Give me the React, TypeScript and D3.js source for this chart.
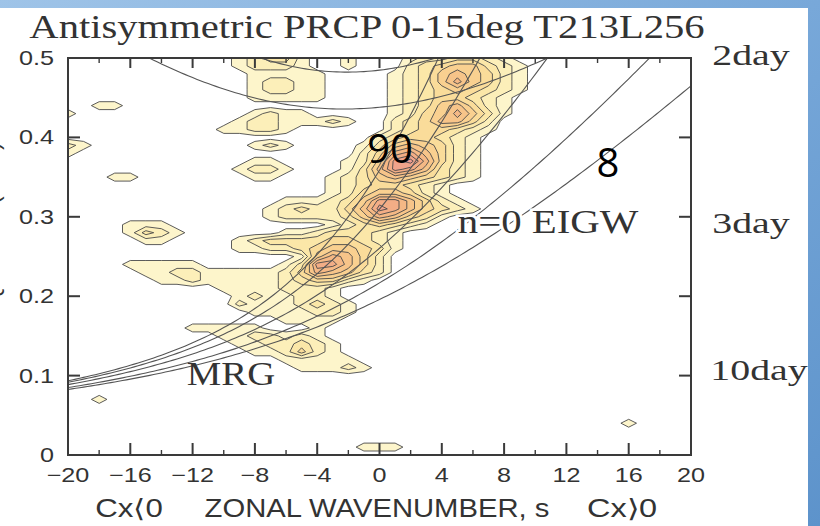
import React from "react";
import * as d3 from "d3";

// contour level of the spectral power on a 1-wavenumber x 0.01-cpd grid.
// columns: s = -20..20, rows: top row is f = 0.50, last row is f = 0.00
const Z = "0".repeat(41);
const powerRows = [
  "00000000000123310010001223321000000000000", // 0.50
  "00000000000122210010002345532100000000000", // 0.49
  "00000000000011111000012356542100000000000", // 0.48
  "00000000000012211000012357542100000000000", // 0.47
  "00000000000012211000012345432100000000000", // 0.46
  "00000000000011111000012344321000000000000", // 0.45
  "00110000000000000000012356421000000000000", // 0.44
  "10000000000012110000012457531000000000000", // 0.43
  "00000000000122111210023466420000000000000", // 0.42
  "00000000001122100000023443210000000000000", // 0.41
  "00000000000000000000234432100000000000000", // 0.40
  "21000000000012100001356542100000000000000", // 0.39
  "10000000000000000002478642100000000000000", // 0.38
  "0000000000001100001259a742100000000000000", // 0.37
  "00000000000122100013698632100000000000000", // 0.36
  "00011000000011000123565432100000000000000", // 0.35
  "00000000000000000123443210000000000000000", // 0.34
  "00000000000000000124554210000000000000000", // 0.33
  "00000000000000111235886421000000000000000", // 0.32
  "00000000000001232246986432100000000000000", // 0.31
  "00000000000001222235764310000000000000000", // 0.30
  "00001110000000000123432100000000000000000", // 0.29
  "00001321000000112333210000000000000000000", // 0.28
  "00000110000123333443210000000000000000000", // 0.27
  "00000000000112234554310000000000000000000", // 0.26
  "00000000000000015764200000000000000000000", // 0.25
  "00001111100000138864200000000000000000000", // 0.24
  "00000112211111247653200000000000000000000", // 0.23
  "00000011211111234421000000000000000000000", // 0.22
  "00000000001111222100000000000000000000000", // 0.21
  "00000000000121122100000000000000000000000", // 0.20
  "00000000000211123210000000000000000000000", // 0.19
  "00000000000011112210000000000000000000000", // 0.18
  "00000000000000111100000000000000000000000", // 0.17
  "00000000111110001000000000000000000000000", // 0.16
  "00000000001122121000000000000000000000000", // 0.15
  "00000000000112232100000000000000000000000", // 0.14
  "00000000000011242100000000000000000000000", // 0.13
  "00000000000000111110000000000000000000000", // 0.12
  "00000000000000011121000000000000000000000", // 0.11
  Z, // 0.10
  Z, // 0.09
  Z, // 0.08
  "00100000000000000000000000000000000000000", // 0.07
  Z, // 0.06
  Z, // 0.05
  "00000000000000000000000000000000000010000", // 0.04
  Z, // 0.03
  Z, // 0.02
  "00000000000000000001110000000000000000000", // 0.01
  Z, // 0.00
];

const wavenumberTicks = [-20, -16, -12, -8, -4, 0, 4, 8, 12, 16, 20];
const wavenumberMinor = [-18, -14, -10, -6, -2, 2, 6, 10, 14, 18];
const frequencyTicks = [0, 0.1, 0.2, 0.3, 0.4, 0.5];
const periodLabels = ["2day", "3day", "10day"];
const equivalentDepths = [8, 12, 25, 50, 90]; // n=0 MRG / EIG curves (m)
const igDepths = [8, 12]; // n=2 inertio-gravity curves (m)

const levelColors = [
  "#fdf5cb", "#fcefb9", "#fbe7a8", "#fadc9a", "#f9d090",
  "#f7c489", "#f5b885", "#f3ad86", "#f1a48b", "#ef9c92",
];

const W = 820;
const H = 526;
const X0 = 68, X1 = 691, Y0 = 455, Y1 = 58;

const xs = d3.scaleLinear().domain([-20, 20]).range([X0, X1]);
const ys = d3.scaleLinear().domain([0, 0.5]).range([Y0, Y1]);

// shallow water equatorial wave dispersion (Matsuno), frequency in cpd
const grav = 9.81, beta = 2.29e-11, earthR = 6.371e6;
const scales = (h: number) => {
  const c = Math.sqrt(grav * h);
  return { L: Math.sqrt(c / beta), T: 1 / Math.sqrt(beta * c) };
};
const cpd = (w: number, T: number) => ((w / T) * 86400) / (2 * Math.PI);
const n0Freq = (s: number, h: number) => {
  const { L, T } = scales(h);
  const k = (s / earthR) * L;
  return cpd(k / 2 + Math.sqrt((k * k) / 4 + 1), T);
};
const ig2Freq = (s: number, h: number) => {
  const { L, T } = scales(h);
  const k = (s / earthR) * L;
  let w = Math.sqrt(k * k + 5) + 0.3;
  for (let i = 0; i < 30; i++) {
    const f = w * w * w - (k * k + 5) * w - k;
    const df = 3 * w * w - (k * k + 5);
    w -= f / df;
  }
  return cpd(w, T);
};

const sSamples = d3.range(-20, 20.001, 0.25);
const curve = d3
  .line<[number, number]>()
  .x((d) => xs(d[0]))
  .y((d) => ys(d[1]));

const nk = 41;
const nf = powerRows.length;
const values: number[] = [];
powerRows
  .slice()
  .reverse()
  .forEach((row) => {
    for (let i = 0; i < nk; i++) values.push(parseInt(row[i] || "0", 36));
  });
const contourBands = d3
  .contours()
  .size([nk, nf])
  .thresholds(d3.range(1, 11).map((l) => l - 0.5))(values);

const bandPath = (mp: any) =>
  mp.coordinates
    .map((poly: number[][][]) =>
      poly
        .map(
          (ring) =>
            "M" +
            ring
              .map(
                ([gx, gy]) =>
                  `${xs(gx - 0.5 - 20).toFixed(1)},${ys((gy - 0.5) * 0.01).toFixed(1)}`
              )
              .join("L") +
            "Z"
        )
        .join("")
    )
    .join("");

const fmtK = (k: number) => (k < 0 ? "\u2212" + -k : String(k));
const fmtF = (f: number) => (f === 0 ? "0" : d3.format(".1f")(f));

const sans = "'Liberation Sans', Arial, sans-serif";
const serif = "'Liberation Serif', 'Times New Roman', serif";
const ink = "#333";

const Stretch = ({ x, y, sx, anchor = "middle", children, ...rest }: any) => (
  <text
    transform={`translate(${x},${y}) scale(${sx},1)`}
    textAnchor={anchor}
    {...rest}
  >
    {children}
  </text>
);

const periodPos = [
  [751, 65],
  [751, 233],
  [759, 380],
];

export default function App() {
  return (
    <svg
      width={W}
      height={H}
      viewBox={`0 0 ${W} ${H}`}
      style={{ position: "absolute", left: 0, top: 0 }}
    >
      <defs>
        <linearGradient id="sky" x1="0" y1="0" x2="1" y2="1">
          <stop offset="0" stopColor="#9fc4e8" />
          <stop offset="0.5" stopColor="#78a8d9" />
          <stop offset="1" stopColor="#5d93cb" />
        </linearGradient>
        <clipPath id="plotClip">
          <rect x={X0} y={Y1} width={X1 - X0} height={Y0 - Y1} />
        </clipPath>
      </defs>
      <rect width={W} height={H} fill="url(#sky)" />
      <rect x={0} y={8} width={808} height={H - 8} fill="#ffffff" />

      {/* spectral power contours */}
      <g clipPath="url(#plotClip)">
        {contourBands.map((b, i) => (
          <path
            key={i}
            d={bandPath(b)}
            fill={levelColors[i]}
            stroke="#4a4a4a"
            strokeWidth={0.9}
            strokeLinejoin="round"
          />
        ))}
        {equivalentDepths.map((h) => (
          <path
            key={"n0" + h}
            d={curve(sSamples.map((s) => [s, n0Freq(s, h)]) as any) || ""}
            fill="none"
            stroke="#555"
            strokeWidth={1.1}
          />
        ))}
        {igDepths.map((h) => (
          <path
            key={"ig" + h}
            d={curve(sSamples.map((s) => [s, ig2Freq(s, h)]) as any) || ""}
            fill="none"
            stroke="#555"
            strokeWidth={1.1}
          />
        ))}
      </g>

      {/* frame and ticks */}
      <g stroke="#3a3a3a" strokeWidth={2} fill="none">
        <rect x={X0} y={Y1} width={X1 - X0} height={Y0 - Y1} />
        {frequencyTicks.slice(1, -1).map((f) => (
          <g key={f}>
            <line x1={X0} x2={X0 + 12} y1={ys(f)} y2={ys(f)} />
            <line x1={X1} x2={X1 - 12} y1={ys(f)} y2={ys(f)} />
          </g>
        ))}
        {wavenumberTicks.slice(1, -1).map((k) => (
          <g key={k}>
            <line x1={xs(k)} x2={xs(k)} y1={Y0} y2={Y0 - 12} />
            <line x1={xs(k)} x2={xs(k)} y1={Y1} y2={Y1 + 10} />
          </g>
        ))}
        {wavenumberMinor.map((k) => (
          <g key={k} strokeWidth={1.4}>
            <line x1={xs(k)} x2={xs(k)} y1={Y0} y2={Y0 - 5} />
            <line x1={xs(k)} x2={xs(k)} y1={Y1} y2={Y1 + 5} />
          </g>
        ))}
      </g>

      {/* tick labels */}
      <g fontFamily={sans} fontSize={20} fill={ink}>
        {frequencyTicks.map((f) => (
          <Stretch key={f} x={54} y={ys(f) + 7} sx={1.26} anchor="end">
            {fmtF(f)}
          </Stretch>
        ))}
        {wavenumberTicks.map((k) => (
          <Stretch key={k} x={xs(k)} y={482} sx={1.26}>
            {fmtK(k)}
          </Stretch>
        ))}
      </g>

      {/* axis titles */}
      <g fontFamily={sans} fontSize={25} fill={ink}>
        <Stretch x={129} y={517} sx={1.25}>
          Cx{"\u27E8"}0
        </Stretch>
        <Stretch x={377} y={517} sx={1.17}>
          ZONAL WAVENUMBER, s
        </Stretch>
        <Stretch x={622} y={517} sx={1.3}>
          Cx{"\u27E9"}0
        </Stretch>
        <text
          transform="translate(-1,245) rotate(-90)"
          textAnchor="middle"
          fontSize={22}
        >
          FREQUENCY (CPD)
        </text>
      </g>

      <g fontFamily={serif} fill={ink}>
        <Stretch x={367} y={38} sx={1.23} fontSize={33}>
          Antisymmetric PRCP 0-15deg T213L256
        </Stretch>
        {periodLabels.map((t, i) => (
          <Stretch key={t} x={periodPos[i][0]} y={periodPos[i][1]} sx={1.33} fontSize={30}>
            {t}
          </Stretch>
        ))}
        <Stretch x={231} y={385} sx={1.14} fontSize={34}>
          MRG
        </Stretch>
        <Stretch
          x={548}
          y={233}
          sx={1.2}
          fontSize={34}
          stroke="#fff"
          strokeWidth={5}
          paintOrder="stroke"
        >
          n=0 EIGW
        </Stretch>
      </g>

      {/* equivalent depth labels */}
      <g fontFamily="'Open Sans', 'Noto Sans', sans-serif" fontSize={40} fill="#000" textAnchor="middle">
        <text x={390} y={163}>90</text>
        <text x={608} y={177}>8</text>
      </g>
    </svg>
  );
}
